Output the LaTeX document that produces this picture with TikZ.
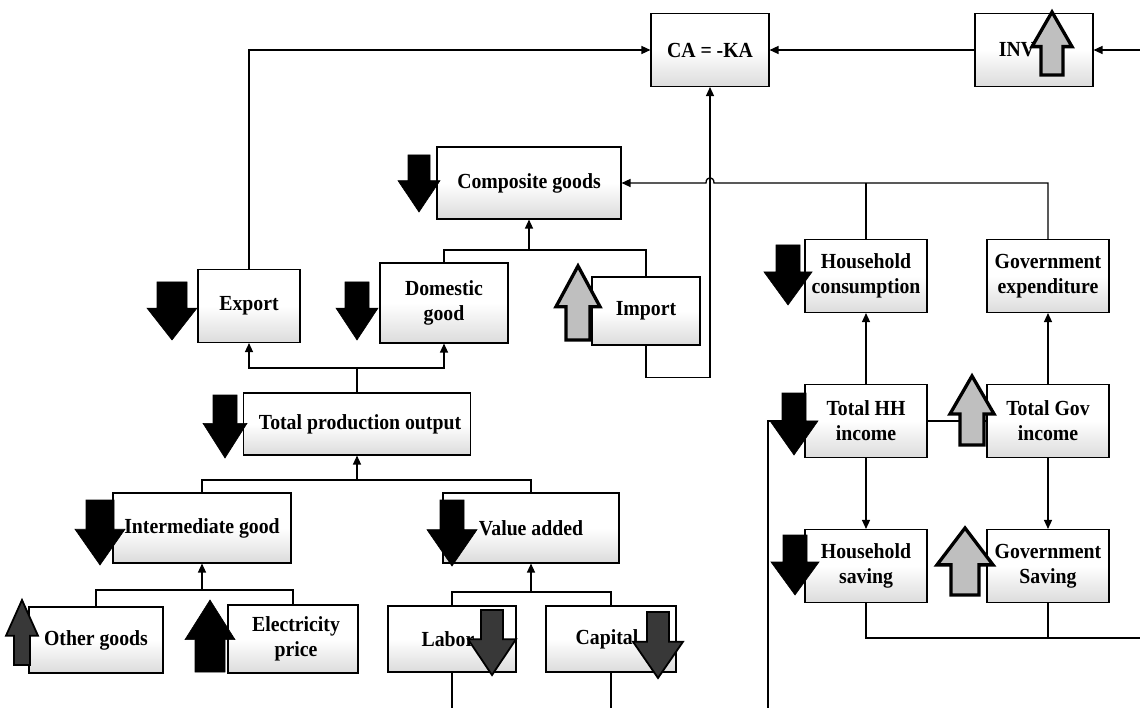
\documentclass[tikz,border=0pt]{standalone}
\usepackage{fontspec}
\setmainfont{Liberation Serif}[FakeStretch=0.92]
\usetikzlibrary{arrows.meta}
% #1 style, #2 x, #3 tail y, #4 tip y, #5 half head width, #6 half shaft width
\newcommand\fatarr[6]{%
  \filldraw[#1] ({#2-#6},#3) -- ({#2-#6},{#3+0.45*(#4-#3)}) -- ({#2-#5},{#3+0.45*(#4-#3)})
    -- (#2,#4) -- ({#2+#5},{#3+0.45*(#4-#3)}) -- ({#2+#6},{#3+0.45*(#4-#3)}) -- ({#2+#6},#3) -- cycle;}
\tikzset{
  box/.style={draw=black, line width=1.1pt, top color=white, bottom color=black!14,
    middle color=white, align=center, inner sep=1pt,
    font=\fontsize{21.5}{25}\selectfont\bfseries},
  conn/.style={line width=1.3pt},
  arr/.style={conn, -{Triangle[length=9pt,width=8pt]}},
  darr/.style={fill=black, draw=black, line width=0.6pt},
  garr/.style={fill=gray!50, draw=black, line width=3.3pt},
  marr/.style={fill=black!78, draw=black, line width=1.8pt},
}
\begin{document}
\begin{tikzpicture}[x=1pt,y=-1pt]
\fill[white] (0,0) rectangle (1140,708);
\useasboundingbox (0,0) rectangle (1140,708);

% boxes
\node[box, minimum width=118, minimum height=73] (ca) at (710,50) {CA = -KA};
\node[box, minimum width=118, minimum height=73] (inv) at (1034,50) {INV\hspace{34pt}};
\node[box, minimum width=184, minimum height=72] (comp) at (529,183) {Composite goods};
\node[box, minimum width=102, minimum height=73] (export) at (249,306) {Export};
\node[box, minimum width=128, minimum height=80] (domestic) at (444,303) {Domestic\\good};
\node[box, minimum width=108, minimum height=68] (import) at (646,311) {Import};
\node[box, minimum width=227, minimum height=62] (tpo) at (357,424) {\hspace{6pt}Total production output};
\node[box, minimum width=178, minimum height=70] (inter) at (202,528) {Intermediate good};
\node[box, minimum width=176, minimum height=70] (va) at (531,528) {Value added};
\node[box, minimum width=134, minimum height=66] (other) at (96,640) {Other goods};
\node[box, minimum width=130, minimum height=68] (elec) at (293,639) {\hspace{6pt}Electricity\\\hspace{6pt}price};
\node[box, minimum width=128, minimum height=66] (labor) at (452,639) {Labor\hspace{8pt}};
\node[box, minimum width=130, minimum height=66] (capital) at (611,639) {Capital\hspace{8pt}};
\node[box, minimum width=122, minimum height=73] (hcons) at (866,276) {Household\\consumption};
\node[box, minimum width=122, minimum height=73] (gexp) at (1048,276) {Government\\expenditure};
\node[box, minimum width=122, minimum height=73] (hhinc) at (866,421) {Total HH\\income};
\node[box, minimum width=122, minimum height=73] (govinc) at (1048,421) {Total Gov\\income};
\node[box, minimum width=122, minimum height=73] (hsav) at (866,566) {Household\\saving};
\node[box, minimum width=122, minimum height=73] (gsav) at (1048,566) {Government\\Saving};

% free ends and junctions
\coordinate (rin) at (1140,50);
\coordinate (dj) at (529,250);
\coordinate (tj) at (357,368);
\coordinate (ij) at (357,480);
\coordinate (oj) at (202,590);
\coordinate (lj) at (531,592);
\coordinate (lb) at (452,708);
\coordinate (cb) at (611,708);
\coordinate (hj) at (866,183);
\coordinate (xa) at (768,421);
\coordinate (xb) at (768,708);
\coordinate (sr) at (1140,638);

% connectors
\draw[arr] (export.north) |- (ca.west);
\draw[arr] (inv.west) -- (ca.east);
\draw[arr] (rin) -- (inv.east);
\draw[arr] (import.south) -- ++(0,32) -| (ca.south);
\draw[conn] (domestic.north) |- (dj) -| (import.north);
\draw[arr] (dj) -- (comp.south);
\draw[conn] (tpo.north) -- (tj);
\draw[arr] (tj) -| (export.south);
\draw[arr] (tj) -| (domestic.south);
\draw[conn] (inter.north) |- (ij) -| (va.north);
\draw[arr] (ij) -- (tpo.south);
\draw[conn] (other.north) |- (oj) -| (elec.north);
\draw[arr] (oj) -- (inter.south);
\draw[conn] (labor.north) |- (lj) -| (capital.north);
\draw[arr] (lj) -- (va.south);
\draw[conn] (labor.south) -- (lb);
\draw[conn] (capital.south) -- (cb);
\draw[conn] (hcons.north) -- (hj);
\draw[arr] (gexp.north) |- (714,183) .. controls (714,176) and (706,176) .. (706,183) -- (comp.east);
\draw[arr] (hhinc.north) -- (hcons.south);
\draw[arr] (govinc.north) -- (gexp.south);
\draw[arr] (hhinc.south) -- (hsav.north);
\draw[arr] (govinc.south) -- (gsav.north);
\draw[conn] (govinc.west) -- (hhinc.east);
\draw[conn] (hhinc.west) -- (xa) -- (xb);
\draw[conn] (hsav.south) |- (sr);
\draw[conn] (gsav.south) -- (gsav.south |- sr);

% change arrows
\fatarr{darr}{419}{155}{212}{21}{11}
\fatarr{darr}{172}{282}{340}{25}{15}
\fatarr{darr}{357}{282}{340}{21}{12}
\fatarr{garr}{578}{340}{266}{22}{12}
\fatarr{darr}{225}{395}{458}{22}{12}
\fatarr{darr}{100}{500}{565}{25}{14}
\fatarr{darr}{452}{500}{566}{25}{12}
\fatarr{marr}{22}{665}{600}{16}{8}
\fatarr{darr}{210}{672}{600}{25}{15}
\fatarr{marr}{492}{610}{675}{24}{11}
\fatarr{marr}{658}{612}{678}{25}{11}
\fatarr{darr}{788}{245}{305}{24}{12}
\fatarr{darr}{794}{393}{455}{24}{12}
\fatarr{darr}{795}{535}{595}{24}{12}
\fatarr{garr}{972}{445}{376}{22}{12}
\fatarr{garr}{965}{595}{528}{28}{14}
\fatarr{garr}{1052}{75}{12}{20}{11}
\end{tikzpicture}
\end{document}
